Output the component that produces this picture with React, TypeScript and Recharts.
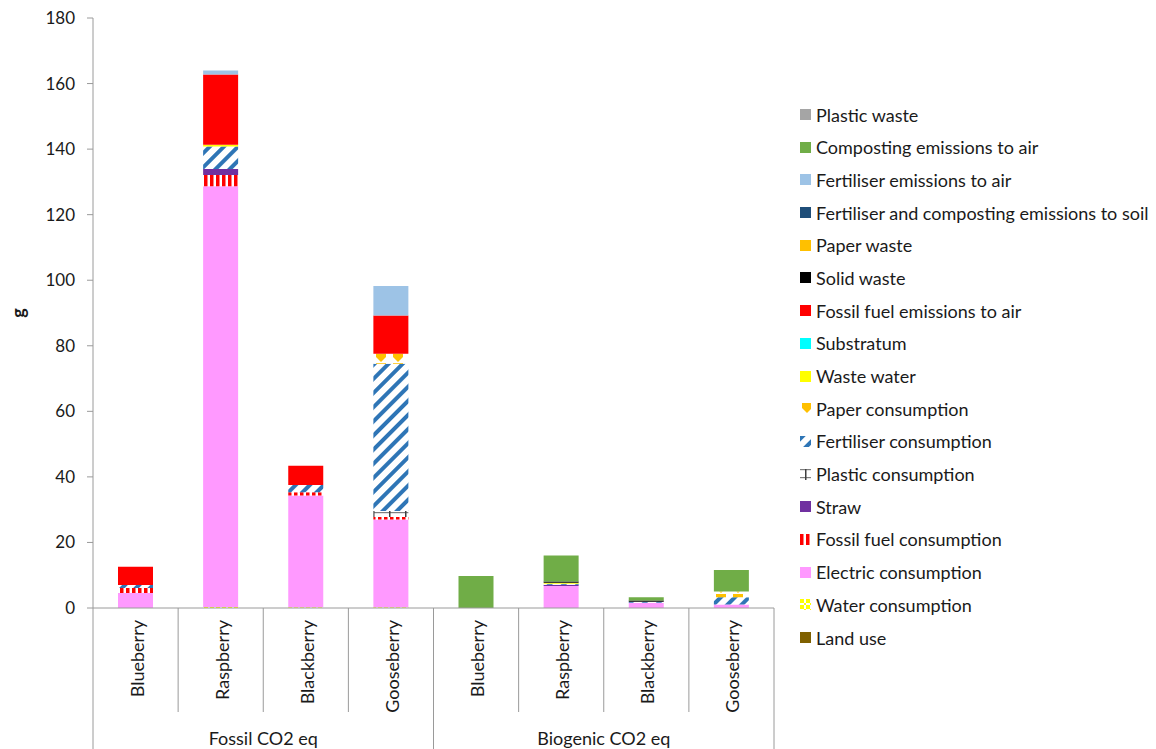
import React from "react"
import { Bar, BarChart, XAxis, YAxis } from "recharts"

const CHART_W = 1156
const CHART_H = 749
const Y_AXIS_W = 93
const MARGIN = { top: 18, right: 382, left: 0, bottom: 0 }
const FONT = "Lato, 'Noto Sans', sans-serif"

const categories = [
  "Blueberry", "Raspberry", "Blackberry", "Gooseberry",
  "Blueberry", "Raspberry", "Blackberry", "Gooseberry",
]
const groups = ["Fossil CO2 eq", "Biogenic CO2 eq"]
const groupOf = [0, 0, 0, 0, 1, 1, 1, 1]

const yTicks = [0, 20, 40, 60, 80, 100, 120, 140, 160, 180]

// stacking order, bottom first
const seriesNames = [
  "Land use",
  "Water consumption",
  "Electric consumption",
  "Fossil fuel consumption",
  "Straw",
  "Plastic consumption",
  "Fertiliser consumption",
  "Paper consumption",
  "Waste water",
  "Substratum",
  "Fossil fuel emissions to air",
  "Solid waste",
  "Paper waste",
  "Fertiliser and composting emissions to soil",
  "Fertiliser emissions to air",
  "Composting emissions to air",
  "Plastic waste",
]

const landUse = [0, 0, 0, 0, 0, 0, 0, 0]
const waterConsumption = [0, 0.3, 0.2, 0.2, 0, 0, 0, 0]
const electricConsumption = [4.6, 128.4, 34.1, 26.8, 0, 6.7, 1.6, 1.1]
const fossilFuelConsumption = [1.5, 3.4, 1.0, 0.8, 0, 0, 0, 0]
const straw = [0, 1.8, 0, 0, 0, 0.4, 0, 0]
const plasticConsumption = [0, 0, 0, 1.8, 0, 0, 0, 0]
const fertiliserConsumption = [0.9, 6.9, 2.2, 44.9, 0, 0.3, 0.3, 2.2]
const paperConsumption = [0, 0, 0, 3.1, 0, 0, 0, 1.7]
const wasteWater = [0, 0.5, 0, 0, 0, 0.3, 0, 0]
const substratum = [0, 0, 0, 0, 0, 0, 0, 0]
const fossilFuelEmissions = [5.6, 21.5, 5.9, 11.6, 0, 0, 0, 0]
const solidWaste = [0, 0, 0, 0, 0, 0.4, 0.4, 0]
const paperWaste = [0, 0, 0, 0, 0, 0, 0, 0]
const fertCompostSoil = [0, 0, 0, 0, 0, 0, 0, 0]
const fertiliserEmissionsAir = [0, 1.2, 0, 9.0, 0, 0, 0, 0]
const compostingEmissionsAir = [0, 0, 0, 0, 9.8, 7.9, 1.0, 6.6]
const plasticWaste = [0, 0, 0, 0, 0, 0, 0, 0]

const seriesValues = [
  landUse, waterConsumption, electricConsumption, fossilFuelConsumption, straw,
  plasticConsumption, fertiliserConsumption, paperConsumption, wasteWater, substratum,
  fossilFuelEmissions, solidWaste, paperWaste, fertCompostSoil, fertiliserEmissionsAir,
  compostingEmissionsAir, plasticWaste,
]

const seriesFills = [
  "#7F6000",
  "url(#patWater)",
  "#FF99FF",
  "url(#patFossilFuel)",
  "#7030A0",
  "url(#patPlastic)",
  "url(#patFert)",
  "url(#patPaper)",
  "#FFFF00",
  "#00FFFF",
  "#FF0000",
  "#000000",
  "#FFC000",
  "#1F4E79",
  "#9DC3E6",
  "#70AD47",
  "#A5A5A5",
]

const data = categories.map((name, i) => {
  const row: Record<string, any> = { name, idx: i }
  seriesValues.forEach((vals, s) => {
    row["k" + s] = vals[i]
  })
  return row
})

const step = (CHART_W - MARGIN.right - Y_AXIS_W) / categories.length

function Patterns() {
  return (
    <defs>
      <pattern id="patFert" width="10" height="10" patternUnits="userSpaceOnUse" patternTransform="rotate(45)">
        <rect width="10" height="10" fill="#fff" />
        <rect x="0" y="0" width="4" height="10" fill="#2E75B6" />
      </pattern>
      <pattern id="patFossilFuel" width="6" height="6" patternUnits="userSpaceOnUse">
        <rect width="6" height="6" fill="#fff" />
        <rect x="0" y="0" width="3.5" height="6" fill="#FF0000" />
      </pattern>
      <pattern id="patPaper" width="17" height="11" patternUnits="userSpaceOnUse">
        <rect width="17" height="11" fill="#fff" />
        <path d="M2,0 H12 V5 L7,10 L2,5 Z" fill="#FFC000" />
      </pattern>
      <pattern id="patPlastic" width="16" height="8" patternUnits="userSpaceOnUse">
        <rect width="16" height="8" fill="#fff" />
        <rect x="0" y="0" width="16" height="1.2" fill="#7f7f7f" />
        <rect x="5" y="0" width="1.5" height="8" fill="#404040" />
      </pattern>
      <pattern id="patWater" width="6" height="6" patternUnits="userSpaceOnUse">
        <rect width="6" height="6" fill="#fff" />
        <rect x="0" y="0" width="4" height="4" fill="#FFFF00" />
        <rect x="4" y="4" width="2" height="2" fill="#FFFF00" />
      </pattern>
    </defs>
  )
}

function CategoryTick(props: any) {
  const { x, y, payload, index } = props
  const i = payload?.index ?? index
  const left = x - step / 2
  const right = x + step / 2
  const isGroupStart = i % 4 === 0
  const isLast = i === categories.length - 1
  return (
    <g>
      <line x1={left} x2={left} y1={y} y2={isGroupStart ? CHART_H : y + 104} stroke="#9a9a9a" strokeWidth={1} />
      {isLast && <line x1={right} x2={right} y1={y} y2={CHART_H} stroke="#9a9a9a" strokeWidth={1} />}
      <text
        x={x + 1}
        y={y + 12}
        transform={`rotate(-90, ${x + 1}, ${y + 12})`}
        textAnchor="end"
        dominantBaseline="central"
        fontSize={18}
        fontFamily={FONT}
        fill="#1a1a1a"
      >
        {payload.value}
      </text>
      {i % 4 === 1 && (
        <text
          x={x + step / 2}
          y={y + 130}
          textAnchor="middle"
          dominantBaseline="central"
          fontSize={18}
          fontFamily={FONT}
          fill="#1a1a1a"
        >
          {groups[groupOf[i]]}
        </text>
      )}
    </g>
  )
}

function SwatchLegend() {
  const items = seriesNames.map((name, s) => ({ name, fill: seriesFills[s] })).reverse()
  return (
    <div style={{ position: "absolute", left: 800, top: 98.2, fontFamily: FONT, fontSize: 18, color: "#1a1a1a" }}>
      {items.map((it) => (
        <div key={it.name} style={{ height: 32.7, display: "flex", alignItems: "center", whiteSpace: "nowrap" }}>
          <svg width={11} height={11} style={{ marginRight: 5, flex: "none" }}>
            <rect width={11} height={11} fill={it.fill} />
          </svg>
          <span>{it.name}</span>
        </div>
      ))}
    </div>
  )
}

export default function App() {
  return (
    <div style={{ position: "absolute", left: 0, top: 0, width: CHART_W, height: CHART_H, background: "#fff" }}>
      <BarChart width={CHART_W} height={CHART_H} data={data} margin={MARGIN} barSize={35}>
        <Patterns />
        <XAxis
          dataKey="name"
          interval={0}
          tickLine={false}
          tickSize={0}
          tickMargin={0}
          height={CHART_H - 608}
          stroke="#9a9a9a"
          tick={<CategoryTick />}
        />
        <YAxis
          domain={[0, 180]}
          ticks={yTicks}
          width={Y_AXIS_W}
          stroke="#9a9a9a"
          tickSize={6}
          tickMargin={12}
          interval={0}
          tick={{ fill: "#1a1a1a", fontSize: 17, fontFamily: FONT }}
          label={{
            content: (p: any) => (
              <text
                x={18}
                y={p.viewBox.y + p.viewBox.height / 2}
                transform={`rotate(-90, 18, ${p.viewBox.y + p.viewBox.height / 2})`}
                textAnchor="middle"
                dominantBaseline="central"
                fontWeight={700}
                fontSize={18}
                fontFamily={FONT}
                fill="#1a1a1a"
              >
                g
              </text>
            ),
          }}
        />
        {seriesNames.map((name, s) => (
          <Bar
            key={name}
            dataKey={"k" + s}
            name={name}
            stackId="a"
            fill={seriesFills[s]}
            isAnimationActive={false}
          />
        ))}
      </BarChart>
      <SwatchLegend />
    </div>
  )
}
